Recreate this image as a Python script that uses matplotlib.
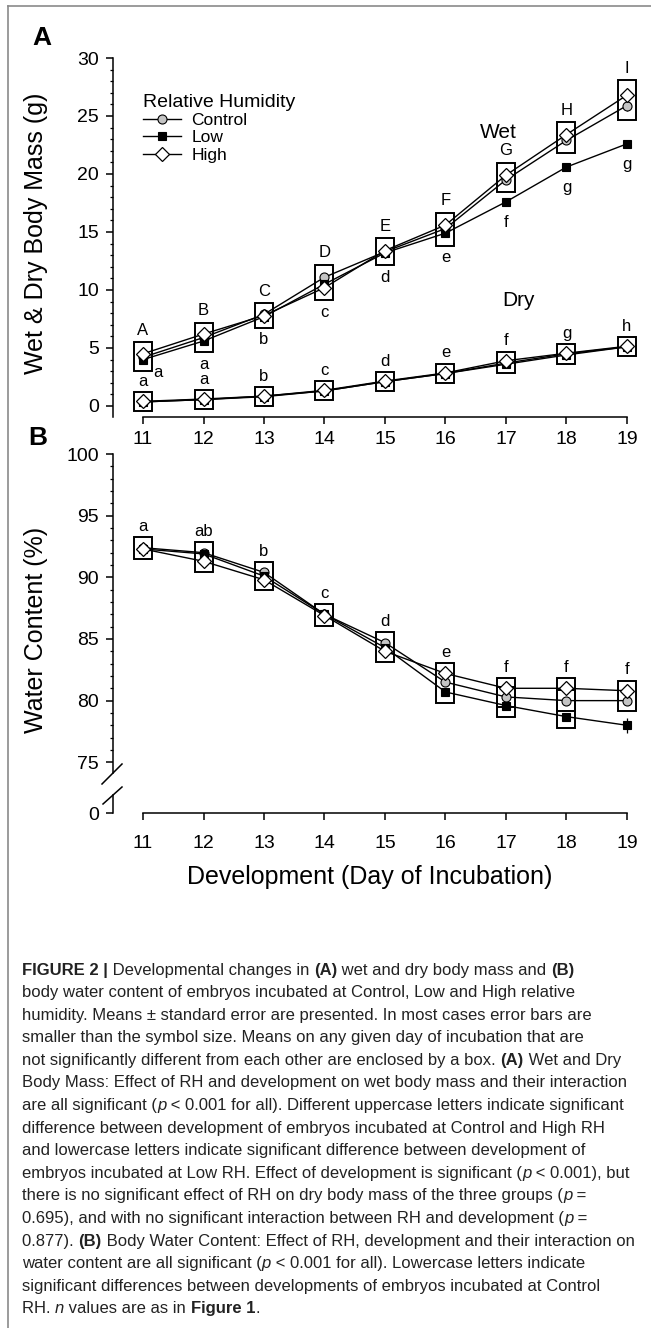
"""Wet/dry body mass and water content of embryos at three relative humidities."""
import re
import matplotlib
matplotlib.use("Agg")
import matplotlib.pyplot as plt
from matplotlib.patches import Rectangle
from matplotlib.lines import Line2D
from matplotlib.ticker import MultipleLocator, FixedLocator
from matplotlib import font_manager

days = [11, 12, 13, 14, 15, 16, 17, 18, 19]
groups = ["Control", "Low", "High"]

# (A) wet body mass (g)
wet_control = [4.2, 5.9, 7.9, 11.1, 13.3, 15.3, 19.5, 22.9, 25.9]
wet_low = [4.0, 5.6, 7.7, 10.5, 13.2, 14.9, 17.6, 20.6, 22.6]
wet_high = [4.5, 6.2, 7.8, 10.2, 13.4, 15.6, 19.9, 23.4, 26.8]
wet_se_control = [0.2, 0.2, 0.2, 0.3, 0.3, 0.3, 0.3, 0.3, 0.5]
wet_se_low = [0.2, 0.2, 0.2, 0.3, 0.3, 0.3, 0.3, 0.3, 0.3]
wet_se_high = [0.2, 0.2, 0.2, 0.3, 0.3, 0.3, 0.3, 0.3, 0.5]

# (A) dry body mass (g)
dry_control = [0.35, 0.55, 0.85, 1.3, 2.1, 2.8, 3.7, 4.5, 5.1]
dry_low = [0.35, 0.55, 0.8, 1.3, 2.1, 2.8, 3.6, 4.4, 5.1]
dry_high = [0.4, 0.6, 0.85, 1.35, 2.15, 2.85, 3.9, 4.55, 5.15]

# (B) water content (%)
water_control = [92.4, 92.0, 90.4, 87.0, 84.7, 81.5, 80.3, 80.0, 80.0]
water_low = [92.3, 91.9, 90.1, 87.0, 84.3, 80.7, 79.6, 78.7, 78.0]
water_high = [92.3, 91.3, 89.8, 86.9, 84.0, 82.2, 81.0, 81.0, 80.8]
water_se_low = [0.1, 0.1, 0.1, 0.1, 0.1, 0.2, 0.2, 0.2, 0.6]

# groups not significantly different (indices into `groups`), per day
ALL = (0, 1, 2)
wet_boxes = [[ALL]] * 6 + [[(0, 2)]] * 3
dry_boxes = [[ALL]] * 9
water_boxes = [[ALL]] * 6 + [[(0, 2), (0, 1)], [(0, 2), (0, 1)], [(0, 2)]]

wet_upper = ["A", "B", "C", "D", "E", "F", "G", "H", "I"]
wet_lower = ["a", "a", "b", "c", "d", "e", "f", "g", "g"]
dry_letters = ["a", "a", "b", "c", "d", "e", "f", "g", "h"]
water_letters = ["a", "ab", "b", "c", "d", "e", "f", "f", "f"]

caption = [
    "**FIGURE 2 |** Developmental changes in **(A)** wet and dry body mass and **(B)**",
    "body water content of embryos incubated at Control, Low and High relative",
    "humidity. Means \u00b1 standard error are presented. In most cases error bars are",
    "smaller than the symbol size. Means on any given day of incubation that are",
    "not significantly different from each other are enclosed by a box. **(A)** Wet and Dry",
    "Body Mass: Effect of RH and development on wet body mass and their interaction",
    "are all significant (*p* < 0.001 for all). Different uppercase letters indicate significant",
    "difference between development of embryos incubated at Control and High RH",
    "and lowercase letters indicate significant difference between development of",
    "embryos incubated at Low RH. Effect of development is significant (*p* < 0.001), but",
    "there is no significant effect of RH on dry body mass of the three groups (*p* =",
    "0.695), and with no significant interaction between RH and development (*p* =",
    "0.877). **(B)** Body Water Content: Effect of RH, development and their interaction on",
    "water content are all significant (*p* < 0.001 for all). Lowercase letters indicate",
    "significant differences between developments of embryos incubated at Control",
    "RH. *n* values are as in **Figure 1**.",
]

plt.rcParams["font.family"] = ["Liberation Sans", "DejaVu Sans"]
W, H = 651, 1328
fig = plt.figure(figsize=(W / 100, H / 100), dpi=100)


def rect(left, top, right, bottom):
    return [left / W, 1 - bottom / H, (right - left) / W, (bottom - top) / H]


def fx(px):
    return px / W


def fy(py):
    return 1 - py / H


styles = {
    "Control": dict(marker="o", ms=6.5, mfc="#c4c4c4", mec="black", mew=0.8),
    "Low": dict(marker="s", ms=6, mfc="black", mec="black", mew=0.8),
    "High": dict(marker="D", ms=7.5, mfc="white", mec="black", mew=0.9),
}

XLIM = (10.504, 19.298)


def style_axis(ax):
    ax.set_xlim(*XLIM)
    for s in ("top", "right"):
        ax.spines[s].set_visible(False)
    for s in ("left", "bottom"):
        ax.spines[s].set_linewidth(1.1)
    ax.tick_params(which="major", direction="out", length=5, width=1.1,
                   labelsize=14, pad=5)
    ax.tick_params(which="minor", direction="out", length=2.5, width=0.9)


def plot_series(ax, vals, ses=None):
    for k, g in enumerate(groups):
        err = ses[k] if ses is not None else None
        ax.errorbar(days, vals[k], yerr=err, color="black", lw=1.0,
                    elinewidth=0.9, capsize=0, zorder=3 + k, **styles[g])


def pad_data(ax, px):
    x0, x1 = ax.get_xlim()
    y0, y1 = ax.get_ylim()
    return px * (x1 - x0) / ax.bbox.width, px * (y1 - y0) / ax.bbox.height


def draw_boxes(ax, vals, ses, boxes, pad_px=9):
    """Draw significance boxes, return (top, bottom) of boxes per day."""
    px_, py_ = pad_data(ax, pad_px)
    tops, bottoms = [], []
    for i, d in enumerate(days):
        t_day, b_day = -1e9, 1e9
        for grp in boxes[i]:
            hi = max(vals[k][i] + (ses[k][i] if ses else 0) for k in grp) + py_
            lo = min(vals[k][i] - (ses[k][i] if ses else 0) for k in grp) - py_
            ax.add_patch(Rectangle((d - px_, lo), 2 * px_, hi - lo, fill=False,
                                   ec="black", lw=1.4, zorder=2))
            t_day, b_day = max(t_day, hi), min(b_day, lo)
        tops.append(t_day)
        bottoms.append(b_day)
    return tops, bottoms


# ---------------- panel A ----------------
axA = fig.add_axes(rect(113, 50, 645, 417))
style_axis(axA)
axA.set_ylim(-0.95, 30.69)
axA.yaxis.set_major_locator(MultipleLocator(5))
axA.yaxis.set_minor_locator(MultipleLocator(1))
axA.xaxis.set_major_locator(FixedLocator(days))
axA.spines["left"].set_bounds(-0.95, 30)
axA.spines["bottom"].set_bounds(11, 19)
axA.tick_params(axis="x", pad=5)

wet = [wet_control, wet_low, wet_high]
wet_se = [wet_se_control, wet_se_low, wet_se_high]
dry = [dry_control, dry_low, dry_high]
plot_series(axA, wet, wet_se)
plot_series(axA, dry)
wt, wb = draw_boxes(axA, wet, wet_se, wet_boxes)
dt, db = draw_boxes(axA, dry, None, dry_boxes)

_, pyA = pad_data(axA, 9)
for i, d in enumerate(days):
    axA.annotate(wet_upper[i], (d, wt[i]), xytext=(0, 12),
                 textcoords="offset pixels", ha="center", va="center", fontsize=12)
    low_in_box = any(1 in g for g in wet_boxes[i])
    anchor = wb[i] if low_in_box else wet_low[i] - wet_se_low[i] - pyA * 0.6
    off = (15, -2) if i == 0 else (0, -12)
    axA.annotate(wet_lower[i], (d, anchor), xytext=off,
                 textcoords="offset pixels", ha="center", va="center", fontsize=12)
    axA.annotate(dry_letters[i], (d, dt[i]), xytext=(0, 11),
                 textcoords="offset pixels", ha="center", va="center", fontsize=12)

axA.text(16.88, 23.6, "Wet", fontsize=15, ha="center", va="center")
axA.text(17.2, 9.1, "Dry", fontsize=15, ha="center", va="center")
axA.set_ylabel("Wet & Dry Body Mass (g)", fontsize=18)
axA.yaxis.set_label_coords(-0.122, 0.5)

handles = [Line2D([], [], color="black", lw=1.0, **styles[g]) for g in groups]
axA.legend(handles, groups, title="Relative Humidity", loc="upper left",
           bbox_to_anchor=(fx(143), fy(94)), bbox_transform=fig.transFigure,
           frameon=False, fontsize=12.5, title_fontsize=14, handlelength=2.2,
           handletextpad=0.6, labelspacing=0.12, borderpad=0, borderaxespad=0,
           alignment="left")

# ---------------- panel B ----------------
axB = fig.add_axes(rect(113, 446, 645, 773))
style_axis(axB)
axB.set_ylim(74.13, 100.65)
axB.yaxis.set_major_locator(MultipleLocator(5))
axB.yaxis.set_minor_locator(MultipleLocator(1))
axB.spines["left"].set_bounds(74.13, 100)
axB.spines["bottom"].set_visible(False)
axB.tick_params(axis="x", which="both", bottom=False, labelbottom=False)

water = [water_control, water_low, water_high]
water_se = [[0.1] * 9, water_se_low, [0.1] * 9]
plot_series(axB, water, water_se)
bt, bb = draw_boxes(axB, water, water_se, water_boxes)
for i, d in enumerate(days):
    axB.annotate(water_letters[i], (d, bt[i]), xytext=(0, 11),
                 textcoords="offset pixels", ha="center", va="center", fontsize=12)
axB.set_ylabel("Water Content (%)", fontsize=18)
axB.yaxis.set_label_coords(-0.122, 0.437)

axB0 = fig.add_axes(rect(113, 795, 645, 815))
style_axis(axB0)
axB0.patch.set_alpha(0)
axB0.set_ylim(-0.162, 1.46)
axB0.yaxis.set_major_locator(FixedLocator([0]))
axB0.spines["left"].set_bounds(0, 1.46)
axB0.spines["bottom"].set_position(("data", 0))
axB0.spines["bottom"].set_bounds(11, 19)
axB0.xaxis.set_major_locator(FixedLocator(days))
axB0.tick_params(axis="x", pad=11)
axB0.set_xlabel("Development (Day of Incubation)", fontsize=18)
axB0.xaxis.set_label_coords(0.483, -2.5)

# axis break marks
for (x0, y0, x1, y1) in [(102, 784, 122, 764), (103, 804, 122, 787)]:
    fig.add_artist(Line2D([fx(x0), fx(x1)], [fy(y0), fy(y1)], color="black",
                          lw=1.1, transform=fig.transFigure))

# panel letters
fig.text(fx(42), fy(38), "A", fontsize=19, fontweight="bold", ha="center", va="center")
fig.text(fx(38), fy(438), "B", fontsize=19, fontweight="bold", ha="center", va="center")

# frame lines (top and left)
fig.add_artist(Line2D([fx(8), 1], [fy(6), fy(6)], color="#8a8a8a", lw=1.2,
                      transform=fig.transFigure))
fig.add_artist(Line2D([fx(8), fx(8)], [fy(6), 0], color="#8a8a8a", lw=1.2,
                      transform=fig.transFigure))

# ---------------- caption ----------------
names = {f.name for f in font_manager.fontManager.ttflist}
cap_family = ["Liberation Sans Narrow", "Liberation Sans"] \
    if "Liberation Sans Narrow" in names else ["Liberation Sans"]
renderer = fig.canvas.get_renderer()


def parse(line):
    segs = []
    for part in re.split(r"(\*\*.+?\*\*|\*.+?\*)", line):
        if not part:
            continue
        if part.startswith("**"):
            segs.append((part[2:-2], dict(fontweight="bold")))
        elif part.startswith("*"):
            segs.append((part[1:-1], dict(fontstyle="italic")))
        else:
            segs.append((part, {}))
    return segs


def width(s, size, kw):
    def w(txt):
        t = fig.text(0, 0, txt, fontsize=size, family=cap_family, **kw)
        v = t.get_window_extent(renderer).width
        t.remove()
        return v
    return w("|" + s + "|") - w("||")


# fit font size so the first line matches its width in the figure
base = sum(width(s, 10, kw) for s, kw in parse(caption[0]))
cap_size = 10 * 551 / base
y = 970
for line in caption:
    x = 22
    for s, kw in parse(line):
        fig.text(fx(x), fy(y), s, fontsize=cap_size, family=cap_family,
                 ha="left", va="center", color="#222222", **kw)
        x += width(s, cap_size, kw)
    y += 22.6

fig.savefig("out.png", dpi=100)
